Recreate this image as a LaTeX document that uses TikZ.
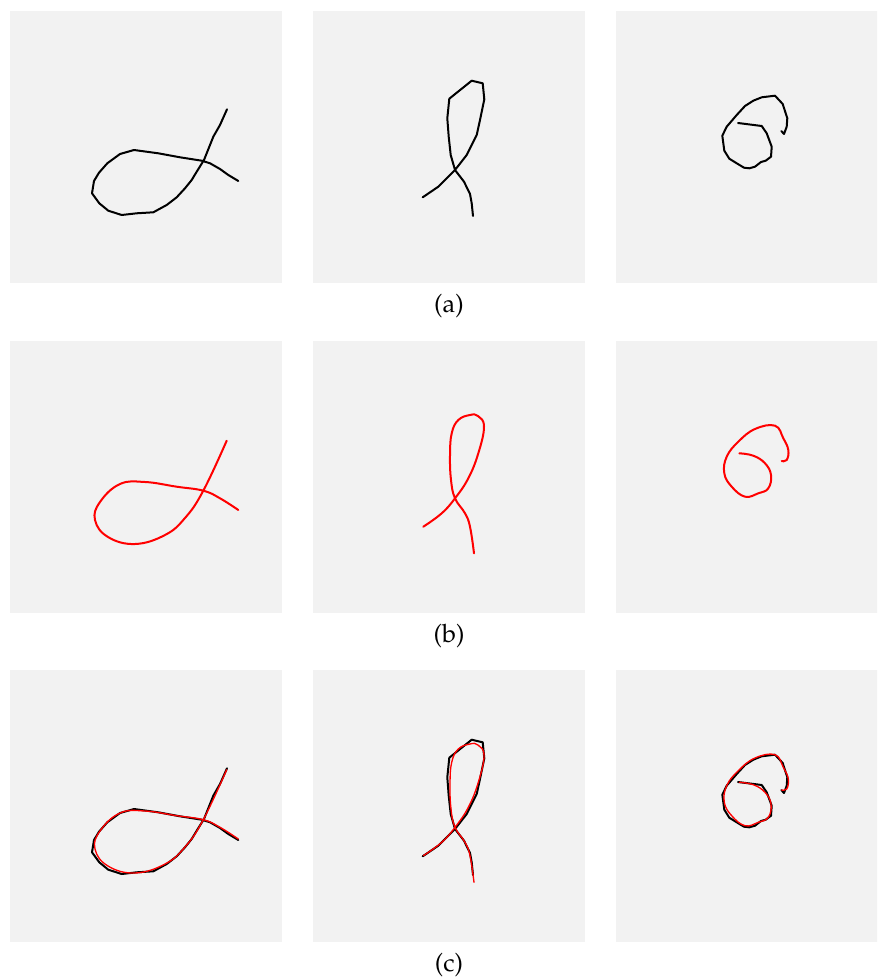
\documentclass[tikz,border=0pt]{standalone}
\usepackage[T1]{fontenc}
\usepackage{mathpazo}
\usepackage{tikz}
\usetikzlibrary{calc}
\usepackage{xcolor}
\definecolor{panelgray}{HTML}{F2F2F2}
\definecolor{fitred}{HTML}{FF0000}

\tikzset{
  rawink/.style={black, line width=1.5pt, line join=round, line cap=round},
  fitink/.style={fitred, line width=1.5pt, line join=round, line cap=round},
  caption/.style={font=\fontsize{19}{23}\selectfont, inner sep=0pt}
}

% raw strokes (polylines)
\newcommand{\rawA}{\draw[rawink] plot coordinates {(227,109.3) (220,125) (213.3,136.7) (210,145) (204,160) (196.7,171.7) (191.7,180) (185,188.3) (176.7,197.3) (166.7,205) (153.3,212.3) (136.7,213.3) (121.7,215) (108.3,210.7) (99.3,203.3) (92,193.3) (94,181) (99,172.7) (107.3,163.3) (120,154) (134,150) (158.3,153.3) (180,157.3) (201.7,160.7) (210,163.3) (220,169) (228.3,175) (238.3,181)};}
\newcommand{\rawB}{\draw[rawink] plot coordinates {(422.7,197.3) (438.3,186.7) (446.7,178.3) (455,170) (466.7,155) (476.7,135) (480,120) (484.3,99.3) (482.7,83.3) (471.7,80.7) (449.3,98.7) (447.3,118.3) (448.7,136.7) (450.7,155) (455,170) (464,181.7) (470,194) (471.7,203.3) (473,216)};}
\newcommand{\rawC}{\draw[rawink] plot coordinates {(738,123) (761.7,126) (766.7,133.3) (771.7,146.7) (771,156.7) (765.7,160.7) (761,162) (755,166.7) (749.3,168.3) (744,167.7) (736.7,163.3) (729.3,158.7) (724.3,150.7) (722.3,135.7) (726.7,126.7) (736.7,115) (745,106) (753.3,100.7) (761.7,97.3) (775,95.7) (782.7,104) (787.3,118.3) (786.7,126.7) (784,134) (781.3,131)};}

% fitted strokes (smooth)
\newcommand{\fitA}[1]{\draw[fitink,#1] plot[smooth,tension=0.7] coordinates {(226.7,110.7) (203.3,160.7) (185,188) (165,205) (135,214) (108,207) (95,190) (100,172) (120,154) (145,152) (176.7,156.7) (203.3,160.7) (220,168.3) (238.3,180)};}
\newcommand{\fitB}[1]{\draw[fitink,#1] plot[smooth,tension=0.7] coordinates {(423.3,196.7) (441.7,183.3) (455,168.3) (468.3,148.3) (478.3,123.3) (484,96.7) (478,86) (470,85) (458.3,90) (451.7,103.3) (450,125) (451,150) (455,168.3) (465,183.3) (470,196.7) (474,223.3)};}
\newcommand{\fitC}[1]{\draw[fitink,#1] plot[smooth,tension=0.7] coordinates {(739.3,123.3) (753.3,125.7) (765,133.3) (771,145) (768.3,158.3) (758.3,163.3) (745,166.7) (731.7,156.7) (724.3,143.3) (726.7,126.7) (738.3,111.7) (755,99) (775,95.7) (783.3,108.3) (788.3,120) (786.7,130) (781.7,131)};}

\begin{document}
\begin{tikzpicture}[x=0.75pt, y=-0.75pt]
  \clip (0,0) rectangle (877,980);
  \foreach \r in {0,330,659}
    \foreach \c in {10,313,616}
      \fill[panelgray] (\c,\r+11) rectangle ++(272,272);

  % (a) raw input
  \rawA \rawB \rawC
  \node[caption] (capA) at (449,306) {(a)};

  % (b) fitted curves
  \begin{scope}[shift={(0,330)}]
    \fitA{} \fitB{} \fitC{}
  \end{scope}
  \node[caption] (capB) at (449,636) {(b)};

  % (c) overlay
  \begin{scope}[shift={(0,659)}]
    \rawA \rawB \rawC
    \fitA{line width=1pt} \fitB{line width=1pt} \fitC{line width=1pt}
  \end{scope}
  \node[caption] (capC) at (449,965) {(c)};
\end{tikzpicture}
\end{document}
